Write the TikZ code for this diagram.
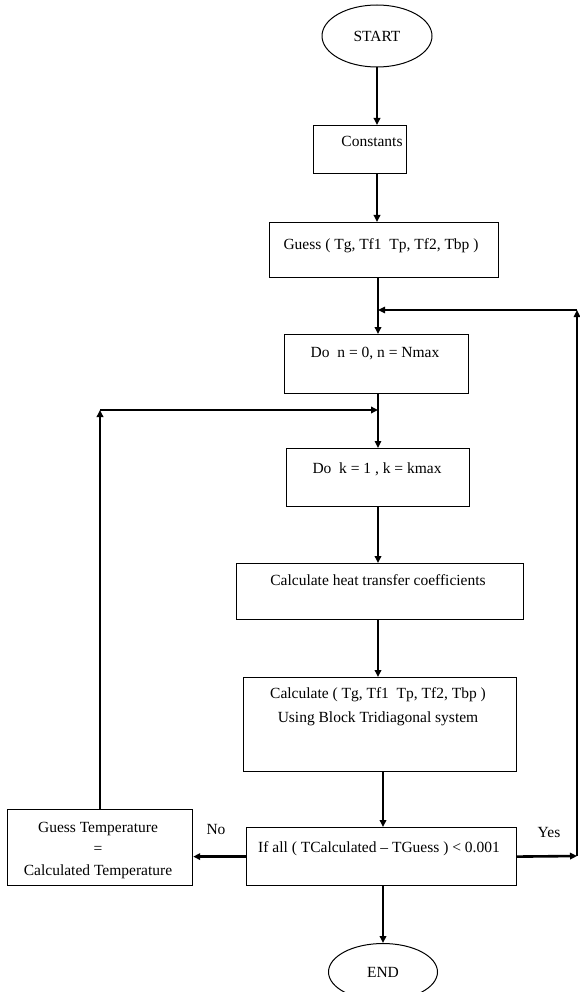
\documentclass[tikz,border=0pt]{standalone}
\usepackage{fontspec}
\setmainfont{Liberation Serif}
\usetikzlibrary{arrows.meta,shapes.geometric}
\newcommand{\tfont}{\fontsize{15.5}{18}\selectfont}
\begin{document}
\begin{tikzpicture}[x=1pt,y=-1pt,
  box/.style={draw, line width=1.2pt, inner sep=0pt, anchor=north west},
  oval/.style={draw, ellipse, line width=1pt, inner sep=0pt, font=\tfont},
  lbl/.style={font=\tfont, inner sep=0pt, anchor=base},
  thk/.style={line width=2.6pt},
  thn/.style={line width=1.4pt},
  tip/.style={-{Triangle[length=7pt,width=6.5pt]}}]
\useasboundingbox (0,0) rectangle (580,992);
% shapes
\node[oval, minimum width=110pt, minimum height=62pt] (start) at (377,36) {START};
\node[box, minimum width=93pt, minimum height=48pt] (const) at (313,125) {};
\node[box, minimum width=229pt, minimum height=55pt] (guess) at (269,222) {};
\node[box, minimum width=184pt, minimum height=59pt] (don) at (284,334) {};
\node[box, minimum width=183pt, minimum height=58pt] (dok) at (286,448) {};
\node[box, minimum width=287pt, minimum height=56pt] (heat) at (236,563) {};
\node[box, minimum width=273pt, minimum height=94pt] (calc) at (243,677) {};
\node[box, minimum width=270pt, minimum height=58pt] (ifb) at (246,827) {};
\node[box, minimum width=185pt, minimum height=76pt] (gt) at (7,809) {};
\node[oval, minimum width=109pt, minimum height=57pt] (end) at (383,972) {END};
% texts
\node[lbl] (tconst) at (372,147) {Constants};
\node[lbl] (tguess) at (381,250) {Guess ( Tg, Tf1\ \ Tp, Tf2, Tbp )};
\node[lbl] (tdon) at (375,357) {Do\ \ n = 0, n = Nmax};
\node[lbl] (tdok) at (377,473) {Do\ \ k = 1 , k = kmax};
\node[lbl] (theat) at (378,585) {Calculate heat transfer coefficients};
\node[lbl] (tcalcA) at (378,698) {Calculate ( Tg, Tf1\ \ Tp, Tf2, Tbp )};
\node[lbl] (tcalcB) at (378,722) {Using Block Tridiagonal system};
\node[lbl] (tif) at (379,852) {If all ( TCalculated -- TGuess ) < 0.001};
\node[lbl] (tgtA) at (98,832) {Guess Temperature};
\node[lbl] (tgtB) at (98,853) {=};
\node[lbl] (tgtC) at (98,875) {Calculated Temperature};
\node[lbl] (tno) at (216,834) {No};
\node[lbl] (tyes) at (549,837) {Yes};
% junctions
\coordinate (j1) at (378,310);
\coordinate (j2) at (378,410);
\coordinate (rc) at (577,310);
\coordinate (lc) at (100,410);
\coordinate (ry) at (577,856);
% connectors
\draw[thk,tip] (start.south) -- (start.south |- const.north);
\draw[thn,line width=2pt,tip] (const.south -| start.south) -- (guess.north -| start.south);
\draw[thk,tip] (guess.south -| j1) -- (don.north -| j1);
\draw[thk] (don.south -| j2) -- (j2);
\draw[thn,tip] (j2) -- (dok.north -| j2);
\draw[thk,tip] (dok.south -| j2) -- (heat.north -| j2);
\draw[thk,tip] (heat.south -| j2) -- (calc.north -| j2);
\draw[thk,tip] (calc.south -| end.north) -- (ifb.north -| end.north);
\draw[thk,tip] (ifb.south -| end.north) -- (end.north);
\draw[thk,tip] (ifb.west) -- (ifb.west -| gt.east);
\draw[thk,tip] (ifb.east) -- (ry);
\draw[thn,tip] (ry) -- (rc);
\draw[thn,tip] (rc) -- (j1);
\draw[thk,tip] (gt.north -| lc) -- (lc);
\draw[thk,tip] (lc) -- (j2);
\end{tikzpicture}
\end{document}
